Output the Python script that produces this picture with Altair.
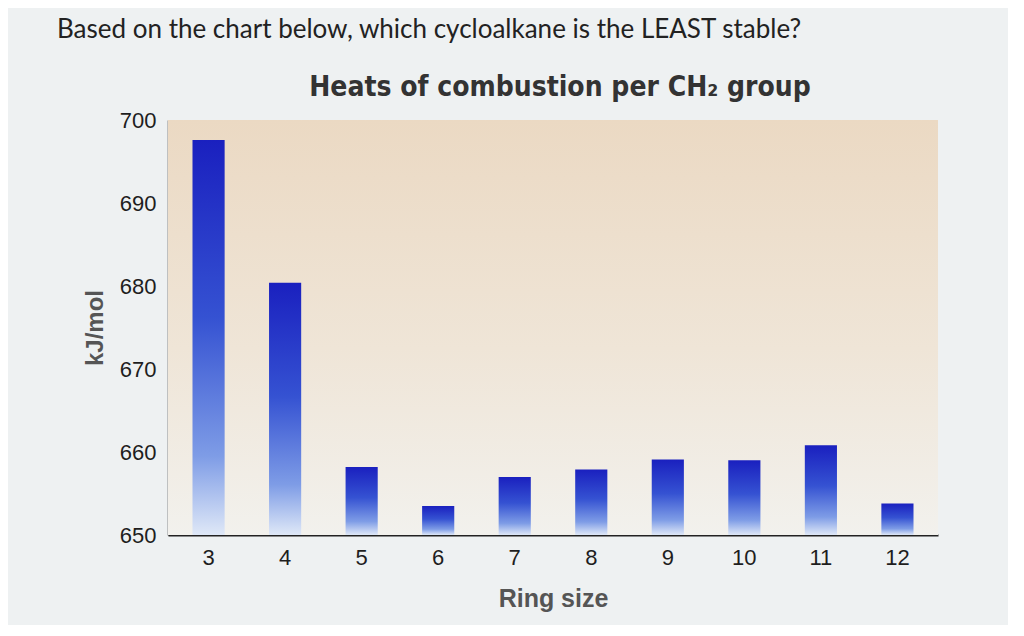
import altair as alt
import pandas as pd

# ---- data ----
ring_sizes = ["3", "4", "5", "6", "7", "8", "9", "10", "11", "12"]
heats = [697.6, 680.4, 658.2, 653.5, 657.0, 657.9, 659.1, 659.0, 660.8, 653.8]
y_ticks = [650, 660, 670, 680, 690, 700]
y_min, y_max = 650, 700

question = "Based on the chart below, which cycloalkane is the LEAST stable?"
chart_title = "Heats of combustion per CH\u2082 group"
x_title = "Ring size"
y_title = "kJ/mol"

df = pd.DataFrame({"ring": ring_sizes, "heat": heats, "base": [y_min] * len(heats)})

W, H = 770, 415

bar_grad = alt.Gradient(
    gradient="linear", x1=0, x2=0, y1=0, y2=1,
    stops=[
        alt.GradientStop(offset=0, color="#1a20bf"),
        alt.GradientStop(offset=0.45, color="#3552d2"),
        alt.GradientStop(offset=0.8, color="#7e9ce6"),
        alt.GradientStop(offset=1, color="#dfe8f7"),
    ],
)
bg_grad = alt.Gradient(
    gradient="linear", x1=0, x2=0, y1=0, y2=1,
    stops=[
        alt.GradientStop(offset=0, color="#ebd9c3"),
        alt.GradientStop(offset=0.55, color="#efe5d7"),
        alt.GradientStop(offset=1, color="#f2f1ed"),
    ],
)

label_font = "Liberation Sans, Arial, sans-serif"
cond_font = "Liberation Sans Narrow, DejaVu Sans Condensed, sans-serif"

bg = alt.Chart(pd.DataFrame({"k": [0]})).mark_rect(fill=bg_grad).encode(
    x=alt.value(0), x2=alt.value(W), y=alt.value(0), y2=alt.value(H)
)

bars = alt.Chart(df).mark_bar(fill=bar_grad, clip=True).encode(
    x=alt.X(
        "ring:N",
        sort=ring_sizes,
        scale=alt.Scale(paddingInner=0.58, paddingOuter=0.32),
        axis=alt.Axis(
            title=x_title, labelAngle=0, ticks=False, labelPadding=12,
            labelFontSize=22, labelFont=label_font, labelColor="#1e1e1e",
            titleFontSize=25, titleFont=label_font, titleFontWeight="bold",
            titleColor="#555555", titlePadding=18, domainColor="#222222",
            domainWidth=2,
        ),
    ),
    y=alt.Y(
        "heat:Q",
        scale=alt.Scale(domain=[y_min, y_max], zero=False, nice=False),
        axis=alt.Axis(
            title=y_title, values=y_ticks, ticks=False, grid=False,
            labelPadding=12, labelFontSize=22, labelFont=label_font,
            labelColor="#1e1e1e", titleFontSize=24, titleFont=label_font,
            titleFontWeight="bold", titleColor="#555555", titlePadding=12,
            domainColor="#333333", domainWidth=1.5,
        ),
    ),
    y2="base:Q",
)

texts = pd.DataFrame({"t": [question, chart_title]})

q = alt.Chart(pd.DataFrame({"t": [question]})).mark_text(
    align="left", baseline="alphabetic", font="Lato, sans-serif",
    fontSize=26, color="#222222",
).encode(x=alt.value(-111), y=alt.value(-82), text="t:N")

ttl = alt.Chart(pd.DataFrame({"t": [chart_title]})).mark_text(
    align="center", baseline="alphabetic", font=cond_font,
    fontSize=28, fontWeight="bold", color="#333333",
).encode(x=alt.value(392), y=alt.value(-24), text="t:N")

chart = alt.layer(bg, bars, q, ttl).properties(
    width=W,
    height=H,
    background="#eef1f2",
    padding={"left": 160, "top": 112, "right": 70, "bottom": 90},
    autosize=alt.AutoSizeParams(type="none"),
).configure_view(stroke=None).configure_axis(grid=False)

chart.save("out.html", embed_options={"renderer": "svg", "actions": False})
